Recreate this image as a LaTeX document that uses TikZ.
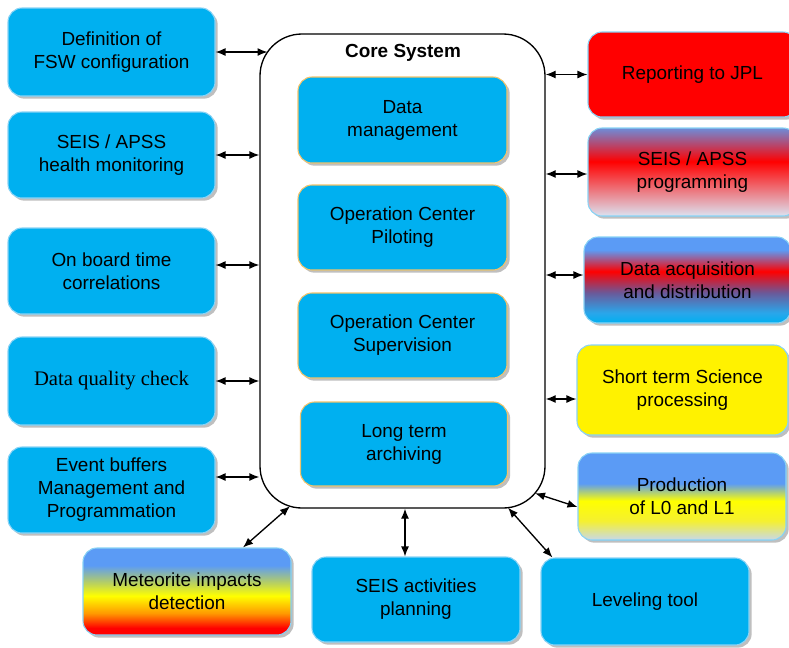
\documentclass[tikz,border=0pt]{standalone}
\usepackage{fontspec}
\setmainfont{Liberation Sans}
\newfontfamily\timesfont{Liberation Serif}
\usetikzlibrary{shadows,arrows.meta,calc}

\definecolor{boxblue}{HTML}{00B0F0}
\definecolor{boxedge}{HTML}{8AD3F5}
\definecolor{goldedge}{HTML}{F2C36B}
\definecolor{gblue}{HTML}{5B9BF5}
\definecolor{ptop}{HTML}{6E8CD8}
\definecolor{pbot}{HTML}{DCE2F0}
\definecolor{adark}{HTML}{6A5A9A}
\definecolor{acyan}{HTML}{2AA6EA}
\definecolor{prodbot}{HTML}{C8D8EA}
\definecolor{yel2}{HTML}{F5F030}
\definecolor{morange}{HTML}{FF9900}
\definecolor{myg}{HTML}{B8D060}

% vertical shadings: 25bp = bottom of box, 75bp = top of box
\pgfdeclareverticalshading{progshade}{100bp}{color(0bp)=(pbot); color(25bp)=(pbot); color(56bp)=(red); color(75bp)=(ptop); color(100bp)=(ptop)}
\pgfdeclareverticalshading{acqshade}{100bp}{color(0bp)=(boxblue); color(25bp)=(boxblue); color(31bp)=(acyan); color(42.5bp)=(adark); color(55bp)=(red); color(67.5bp)=(gblue); color(75bp)=(gblue); color(100bp)=(gblue)}
\pgfdeclareverticalshading{prodshade}{100bp}{color(0bp)=(prodbot); color(25bp)=(prodbot); color(36bp)=(yel2); color(47.5bp)=(yellow); color(57.5bp)=(gblue); color(75bp)=(gblue); color(100bp)=(gblue)}
\pgfdeclareverticalshading{meteoshade}{100bp}{color(0bp)=(red); color(25bp)=(red); color(29bp)=(red); color(37.5bp)=(morange); color(47.5bp)=(yellow); color(55bp)=(myg); color(65bp)=(gblue); color(75bp)=(gblue); color(100bp)=(gblue)}

\begin{document}
\begin{tikzpicture}[x=0.75pt,y=-0.75pt,
  font=\fontsize{14.2}{17.25}\selectfont,
  box/.style={rounded corners=10.5pt, draw=boxedge, line width=0.8pt, fill=boxblue,
    align=center, inner sep=0pt,
    drop shadow={shadow xshift=2pt,shadow yshift=-2pt,fill=black!45,opacity=0.55}},
  inbox/.style={box, draw=goldedge},
  sz/.style 2 args={minimum width=#1*0.75pt, minimum height=#2*0.75pt},
  arr/.style={{Latex[length=7.5pt,width=6pt]}-{Latex[length=7.5pt,width=6pt]}, line width=1pt},
]
\useasboundingbox (0,0) rectangle (789,647);
\fill[white] (0,0) rectangle (789,647);

% core system
\node[draw, fill=white, line width=1pt, rounded corners=31.5pt, sz={285}{474}, inner sep=0pt] (core) at (402.5,271) {};
\node[font=\fontsize{14.2}{17}\selectfont\bfseries] (title) at (403,53) {Core System};

\node[inbox, sz={209}{86}] (dm) at (402.5,120) {Data\\management};
\node[inbox, sz={209}{85}] (pil) at (402.5,227.5) {Operation Center\\Piloting};
\node[inbox, sz={209}{85}] (sup) at (402.5,335.5) {Operation Center\\Supervision};
\node[inbox, sz={207}{84}] (arch) at (404,444) {Long term\\archiving};

% left column
\node[box, sz={207}{88}] (defn) at (111.5,52) {Definition of\\FSW configuration};
\node[box, sz={207}{86}] (health) at (111.5,155) {SEIS / APSS\\health monitoring};
\node[box, sz={207}{86}] (time) at (111.5,271) {On board time\\correlations};
\node[box, sz={207}{88}] (quality) at (111.5,381) {\timesfont\fontsize{15.5}{18}\selectfont Data quality check};
\node[box, sz={207}{86}] (event) at (111.5,490) {Event buffers\\Management and\\Programmation};

% bottom row
\node[box, sz={208}{87}, shade, shading=meteoshade] (meteo) at (187,591.5) {Meteorite impacts\\detection};
\node[box, sz={208}{85}] (plan) at (416,599.5) {SEIS activities\\planning};
\node[box, sz={208}{87}] (level) at (645,601.5) {Leveling tool};

% right column
\node[box, sz={209}{85}, fill=red] (jpl) at (692.5,74.5) {Reporting to JPL};
\node[box, sz={209}{88}, shade, shading=progshade] (prog) at (692.5,172) {SEIS / APSS\\programming};
\node[box, sz={207}{86}, shade, shading=acqshade] (acq) at (687.5,280) {Data acquisition\\and distribution};
\node[box, sz={211}{90}, fill=yellow] (short) at (682.5,390) {Short term Science\\processing};
\node[box, sz={208}{87}, shade, shading=prodshade] (prod) at (682,496.5) {Production\\of L0 and L1};

% points on the rounded core outline
\coordinate (cA) at (267.5,52);
\coordinate (cM) at (290,506.2);
\coordinate (cL) at (508,507.7);
\coordinate (cP) at (535,493.2);

% left connectors
\draw[arr] (defn.east) -- (cA);
\draw[arr] (health.east) -- (health.east -| core.west);
\draw[arr] ($(time.east)+(0,-6)$) coordinate (tA) -- (tA -| core.west);
\draw[arr] (quality.east) -- (quality.east -| core.west);
\draw[arr] ($(event.east)+(0,-13)$) coordinate (eA) -- (eA -| core.west);

% right connectors
\draw[arr] (jpl.west -| core.east) -- (jpl.west);
\draw[arr] ($(prog.west)+(0,2)$) coordinate (pA) -- (pA -| core.east);
\draw[arr] ($(acq.west)+(0,-5)$) coordinate (aA) -- (aA -| core.east);
\draw[arr] ($(short.west)+(0,9)$) coordinate (sA) -- (sA -| core.east);
\draw[arr] (cP) -- ($(prod.west)+(0,10.5)$);

% bottom connectors
\draw[arr] ($(meteo.north)+(56,0)$) -- (cM);
\draw[arr] ($(core.south)+(2.5,0)$) coordinate (kA) -- (kA |- plan.north);
\draw[arr] (cL) -- ($(level.north west)+(12,0)$);
\end{tikzpicture}
\end{document}
